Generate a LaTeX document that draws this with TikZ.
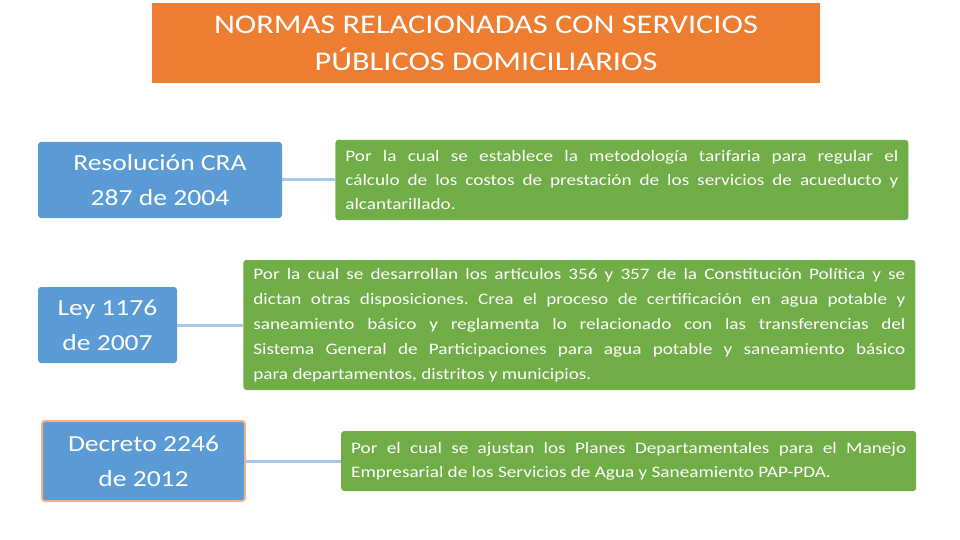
\documentclass[tikz,border=0pt]{standalone}
\usepackage{fontspec}
\setmainfont{Carlito}
\newfontfamily\slidefont[FakeStretch=1.2]{Carlito}
\usetikzlibrary{positioning}
\definecolor{titleorange}{HTML}{ED7D31}
\definecolor{normblue}{HTML}{5B9BD5}
\definecolor{descgreen}{HTML}{70AD47}
\definecolor{linkblue}{HTML}{A9C9E8}
\definecolor{edgeorange}{HTML}{F4B183}
\hyphenpenalty=10000
\tolerance=9999
\frenchspacing

\begin{document}
\begin{tikzpicture}[x=1pt, y=1pt,
    titlebox/.style={fill=titleorange, minimum width=668pt, minimum height=80pt, align=center, text=white, font=\slidefont\fontsize{27}{37}\selectfont},
    normbox/.style={fill=normblue, rounded corners=3pt, minimum height=76pt, align=center, text=white, font=\slidefont\fontsize{23}{35}\selectfont},
    descbox/.style={fill=descgreen, rounded corners=3pt, align=justify, text=white, inner xsep=10pt, font=\slidefont\fontsize{16}{24}\selectfont},
    link/.style={linkblue, line width=3pt}]
	\useasboundingbox (0,0) rectangle (960,-540);
	\node[titlebox] (title) at (486,-43) {NORMAS RELACIONADAS CON SERVICIOS\\PÚBLICOS DOMICILIARIOS};
	% normas
	\node[normbox, minimum width=244pt] (resolucion) at (160,-180) {Resolución CRA\\287 de 2004};
	\node[normbox, minimum width=139pt] (ley) at (107.5,-325) {Ley 1176\\de 2007};
	\node[normbox, minimum width=203pt, minimum height=80pt, draw=edgeorange, line width=2pt] (decreto) at (143.5,-461) {Decreto 2246\\de 2012};
	% descripciones
	\node[descbox, text width=553pt, minimum height=80pt, right=53pt of resolucion] (resdesc) {Por la cual se establece la metodología tarifaria para regular el\linebreak cálculo de los costos de prestación de los servicios de acueducto y\linebreak alcantarillado.};
	\node[descbox, text width=652pt, minimum height=130pt, right=66pt of ley, font=\slidefont\fontsize{16}{25}\selectfont] (leydesc) {Por la cual se desarrollan los artículos 356 y 357 de la Constitución Política y se\linebreak dictan otras disposiciones. Crea el proceso de certificación en agua potable y\linebreak saneamiento básico y reglamenta lo relacionado con las transferencias del\linebreak Sistema General de Participaciones para agua potable y saneamiento básico\linebreak para departamentos, distritos y municipios.};
	\node[descbox, text width=555pt, minimum height=60pt, right=95pt of decreto] (decdesc) {Por el cual se ajustan los Planes Departamentales para el Manejo\linebreak Empresarial de los Servicios de Agua y Saneamiento PAP-PDA.};
	\draw[link] (resolucion) -- (resdesc);
	\draw[link] (ley) -- (leydesc);
	\draw[link] (decreto) -- (decdesc);
\end{tikzpicture}
\end{document}
